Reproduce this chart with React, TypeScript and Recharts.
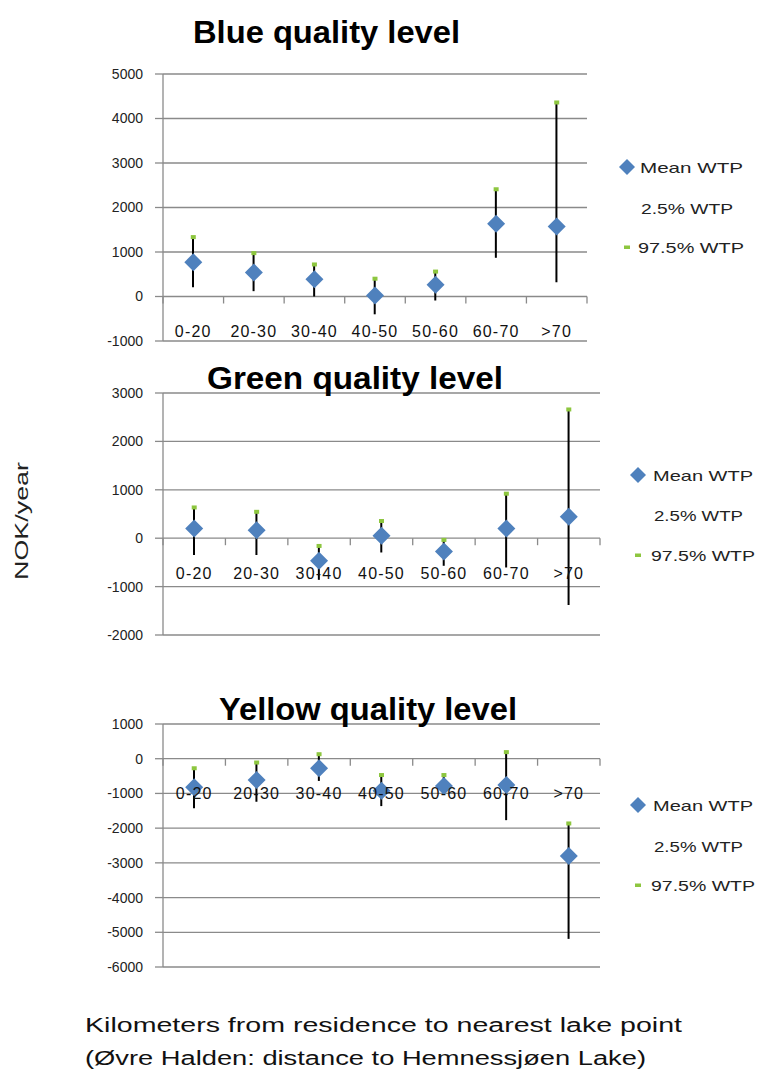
import React from "react";
import { Bar, CartesianGrid, ComposedChart, Scatter, XAxis, YAxis } from "recharts";

const categories = ["0-20", "20-30", "30-40", "40-50", "50-60", "60-70", ">70"];

const blueMean = [770, 540, 390, 20, 265, 1635, 1575];
const blueLow = [210, 120, 0, -400, -90, 870, 320];
const blueHigh = [1335, 975, 720, 400, 560, 2410, 4360];

const greenMean = [200, 165, -465, 50, -275, 200, 445];
const greenLow = [-345, -345, -860, -295, -570, -605, -1380];
const greenHigh = [635, 545, -160, 355, -35, 920, 2660];

const yellowMean = [-825, -615, -275, -920, -785, -755, -2800];
const yellowLow = [-1430, -1240, -640, -1365, -1045, -1770, -5190];
const yellowHigh = [-275, -110, 130, -470, -470, 190, -1865];

const blueTicks = [-1000, 0, 1000, 2000, 3000, 4000, 5000];
const greenTicks = [-2000, -1000, 0, 1000, 2000, 3000];
const yellowTicks = [-6000, -5000, -4000, -3000, -2000, -1000, 0, 1000];

const legendLabels = ["Mean WTP", "2.5% WTP", "97.5% WTP"];

const BLUE = "#4f81bd";
const GREEN = "#8dc63f";
const GRID = "#8a8a8a";
const FONT = "'Liberation Sans', Arial, sans-serif";
const PLOT_LEFT = 163;
const M = { top: 12, right: 6, bottom: 0, left: 0 };
const X_H = 12;

function buildRows(mean: number[], lo: number[], hi: number[]) {
  return categories.map((cat, i) => ({ cat, mean: mean[i], lo: lo[i], hi: hi[i], range: [lo[i], hi[i]] }));
}

const Diamond = (p: any) => {
  const { cx, cy } = p;
  if (cx == null || cy == null) return null;
  return <path d={`M${cx},${cy - 9}L${cx + 9},${cy}L${cx},${cy + 9}L${cx - 9},${cy}Z`} fill={BLUE} />;
};

const GreenTick = (p: any) => {
  const { cx, cy } = p;
  if (cx == null || cy == null) return null;
  return <rect x={cx - 2.5} y={cy - 2} width={5} height={4} fill={GREEN} />;
};

function Panel({ rows, ticks, plotTop, plotHeight, plotWidth }: any) {
  const min = ticks[0];
  const max = ticks[ticks.length - 1];
  const zeroY = M.top + (max / (max - min)) * plotHeight;
  const band = plotWidth / rows.length;

  const renderTick = (p: any) => {
    const x = p.x;
    const last = p.index === rows.length - 1;
    return (
      <g>
        <line x1={x - band / 2} x2={x - band / 2} y1={zeroY} y2={zeroY + 7} stroke={GRID} strokeWidth={1.3} />
        {last && <line x1={x + band / 2} x2={x + band / 2} y1={zeroY} y2={zeroY + 7} stroke={GRID} strokeWidth={1.3} />}
        <text x={x} y={zeroY + 35} textAnchor="middle" dominantBaseline="central" fontSize={16} letterSpacing={1.2} fill="#111" fontFamily={FONT}>
          {p.payload.value}
        </text>
      </g>
    );
  };

  return (
    <div style={{ position: "absolute", left: 0, top: plotTop - M.top }}>
      <ComposedChart width={PLOT_LEFT + plotWidth + M.right} height={plotHeight + M.top + X_H} data={rows} margin={M}>
        <CartesianGrid horizontal vertical={false} stroke={GRID} strokeWidth={1.3} />
        <XAxis dataKey="cat" type="category" height={X_H} axisLine={false} tickLine={false} interval={0} tick={renderTick} />
        <YAxis
          type="number"
          domain={[min, max]}
          ticks={ticks}
          interval={0}
          allowDataOverflow
          width={PLOT_LEFT}
          axisLine={{ stroke: GRID, strokeWidth: 1.3 }}
          tickLine={{ stroke: GRID, strokeWidth: 1.3 }}
          tickSize={8}
          tickMargin={12}
          tick={{ fontSize: 14, fill: "#222", fontFamily: FONT }}
        />
        <Bar dataKey="range" barSize={2} fill="#000" isAnimationActive={false} />
        <Scatter dataKey="mean" shape={Diamond} isAnimationActive={false} />
        <Scatter dataKey="hi" shape={GreenTick} isAnimationActive={false} />
      </ComposedChart>
    </div>
  );
}

function Legend({ x, textX, ys, ends }: any) {
  return (
    <g fontFamily={FONT} fontSize={15} fill="#222">
      <path d={`M${x},${ys[0] - 8}L${x + 8},${ys[0]}L${x},${ys[0] + 8}L${x - 8},${ys[0]}Z`} fill={BLUE} />
      <text x={textX} y={ys[0] + 5.5} textLength={ends[0] - textX} lengthAdjust="spacingAndGlyphs">{legendLabels[0]}</text>
      <text x={textX + 1} y={ys[1] + 5.5} textLength={ends[1] - textX - 1} lengthAdjust="spacingAndGlyphs">{legendLabels[1]}</text>
      <rect x={x - 3} y={ys[2] - 1.5} width={6} height={3.5} fill={GREEN} />
      <text x={textX - 2} y={ys[2] + 5.5} textLength={ends[2] - textX + 2} lengthAdjust="spacingAndGlyphs">{legendLabels[2]}</text>
    </g>
  );
}

export default function App() {
  const blueRows = buildRows(blueMean, blueLow, blueHigh);
  const greenRows = buildRows(greenMean, greenLow, greenHigh);
  const yellowRows = buildRows(yellowMean, yellowLow, yellowHigh);

  return (
    <div style={{ position: "absolute", left: 0, top: 0, width: 758, height: 1075, background: "#fff", overflow: "hidden" }}>
      <Panel rows={blueRows} ticks={blueTicks} plotTop={74} plotHeight={267} plotWidth={424} />
      <Panel rows={greenRows} ticks={greenTicks} plotTop={393} plotHeight={242} plotWidth={437} />
      <Panel rows={yellowRows} ticks={yellowTicks} plotTop={724} plotHeight={243} plotWidth={437} />
      <svg width={758} height={1075} style={{ position: "absolute", left: 0, top: 0, pointerEvents: "none" }}>
        <g fontFamily={FONT} fontWeight="bold" fontSize={31} fill="#000">
          <text x={193} y={43} textLength={267} lengthAdjust="spacingAndGlyphs">Blue quality level</text>
          <text x={207} y={389} textLength={296} lengthAdjust="spacingAndGlyphs">Green quality level</text>
          <text x={219} y={720} textLength={298} lengthAdjust="spacingAndGlyphs">Yellow quality level</text>
        </g>
        <Legend x={627} textX={640} ys={[167, 208, 247]} ends={[743, 733, 744]} />
        <Legend x={638} textX={653} ys={[475, 515, 555]} ends={[753, 743, 755]} />
        <Legend x={638} textX={653} ys={[805, 846, 885]} ends={[753, 743, 755]} />
        <text transform="translate(28,521) rotate(-90)" textAnchor="middle" fontFamily={FONT} fontSize={18} fill="#222" textLength={118} lengthAdjust="spacingAndGlyphs">
          NOK/year
        </text>
        <g fontFamily={FONT} fontSize={20} fill="#111">
          <text x={85} y={1032} textLength={597} lengthAdjust="spacingAndGlyphs">Kilometers from residence to nearest lake point</text>
          <text x={85} y={1065} textLength={561} lengthAdjust="spacingAndGlyphs">(Øvre Halden: distance to Hemnessjøen Lake)</text>
        </g>
      </svg>
    </div>
  );
}
